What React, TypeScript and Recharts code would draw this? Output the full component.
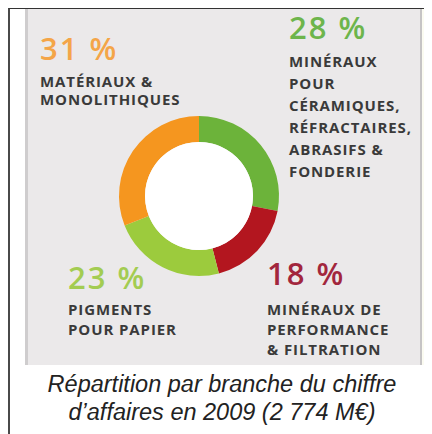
import { PieChart, Pie, Cell } from 'recharts'

// branches, clockwise from 12 o'clock
const branches = [
  'Minéraux pour céramiques, réfractaires, abrasifs & fonderie',
  'Minéraux de performance & filtration',
  'Pigments pour papier',
  'Matériaux & monolithiques',
]
const shares = [28, 18, 23, 31]
const sliceColors = ['#6cb33a', '#b3161f', '#9ccb3d', '#f5961f']
const pctColors = ['#6db54c', '#a2263d', '#a3cc52', '#f4a548']
const labelLines = [
  ['MINÉRAUX', 'POUR', 'CÉRAMIQUES,', 'RÉFRACTAIRES,', 'ABRASIFS &', 'FONDERIE'],
  ['MINÉRAUX DE', 'PERFORMANCE', '& FILTRATION'],
  ['PIGMENTS', 'POUR PAPIER'],
  ['MATÉRIAUX &', 'MONOLITHIQUES'],
]
const captionLines = ['Répartition par branche du chiffre', 'd’affaires en 2009 (2 774 M€)']

const pieData = branches.map((name, i) => ({ name, value: shares[i] }))
const holeData = [{ name: 'hole', value: 1 }]

// where each label block sits (page coords)
const labelPos = [
  { x: 289, pct: 39, first: 67, step: 22 },
  { x: 267, pct: 285, first: 315, step: 20 },
  { x: 68, pct: 289, first: 315, step: 20 },
  { x: 40, pct: 60, first: 87, step: 18 },
]

export default function App() {
  return (
    <div style={{ position: 'relative', width: 424, height: 426, borderLeft: '2px solid #4a4a4a', borderTop: '1px solid #333', boxSizing: 'border-box' }}>
      {/* grey panel */}
      <div
        style={{
          position: 'absolute',
          left: 15,
          top: 0,
          width: 397,
          height: 356,
          background: '#ebe9ea',
          borderLeft: '3px solid #cfcdce',
          borderRight: '2px solid #c6c4c5',
          boxSizing: 'border-box',
        }}
      />
      <div style={{ position: 'absolute', left: 412, top: 0, width: 12, height: 356, background: '#fbfbf1' }} />

      <div style={{ position: 'absolute', left: 15, top: 0 }}>
        <PieChart width={397} height={356} margin={{ top: 0, right: 0, bottom: 0, left: 0 }}>
          <Pie
            data={pieData}
            dataKey="value"
            cx={174}
            cy={187}
            innerRadius={54}
            outerRadius={80}
            startAngle={90}
            endAngle={-270}
            stroke="none"
            isAnimationActive={false}
          >
            {pieData.map((d, i) => (
              <Cell key={d.name} fill={sliceColors[i]} />
            ))}
          </Pie>
          <Pie
            data={holeData}
            dataKey="value"
            cx={174}
            cy={187}
            innerRadius={0}
            outerRadius={54}
            fill="#ffffff"
            stroke="none"
            isAnimationActive={false}
          />
        </PieChart>
      </div>

      {/* labels + caption, page coordinates */}
      <svg width={432} height={434} style={{ position: 'absolute', left: -10, top: -9, pointerEvents: 'none' }}>
        {shares.map((v, i) => (
          <g key={i}>
            <text
              x={labelPos[i].x}
              y={labelPos[i].pct}
              fill={pctColors[i]}
              fontFamily="Open Sans"
              fontWeight={600}
              fontSize={31}
              letterSpacing={2}
            >
              {`${v} %`}
            </text>
            {labelLines[i].map((line, j) => (
              <text
                key={j}
                x={labelPos[i].x}
                y={labelPos[i].first + j * labelPos[i].step}
                fill="#3a3a3a"
                fontFamily="Open Sans"
                fontWeight={700}
                fontSize={15}
                letterSpacing={0.9}
              >
                {line}
              </text>
            ))}
          </g>
        ))}
        {captionLines.map((line, i) => (
          <text
            key={i}
            x={222}
            y={392 + i * 28}
            textAnchor="middle"
            fill="#222"
            fontFamily="Liberation Sans"
            fontStyle="italic"
            fontSize={23.5}
          >
            {line}
          </text>
        ))}
      </svg>
    </div>
  )
}
